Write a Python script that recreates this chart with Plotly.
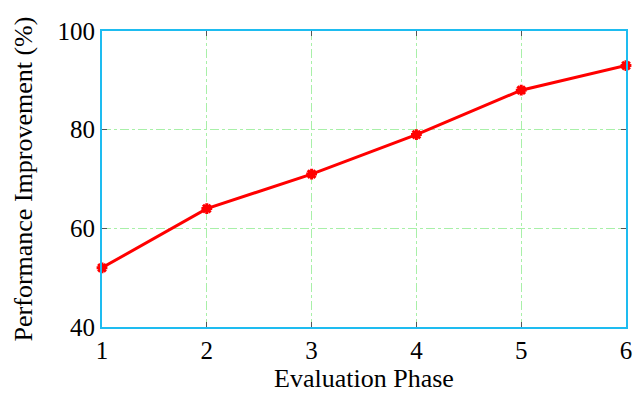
import plotly.graph_objects as go

phases = [1, 2, 3, 4, 5, 6]
improvement = [52, 64, 71, 79, 88, 93]
x_ticks = [1, 2, 3, 4, 5, 6]
y_ticks = [40, 60, 80, 100]

fig = go.Figure()
fig.add_trace(go.Scatter(
    x=phases, y=improvement, mode="lines+markers",
    line=dict(color="#ff0000", width=3),
    marker=dict(symbol="asterisk-open", size=9, color="#ff0000",
                line=dict(color="#ff0000", width=3)),
    cliponaxis=False, showlegend=False,
))

axis_common = dict(
    showline=True, linecolor="#1ebcf0", linewidth=2, mirror="ticks",
    ticks="inside", ticklen=5, tickcolor="#555555", tickwidth=1,
    showgrid=True, gridcolor="#a8f0a8", griddash="dashdot", gridwidth=1,
    zeroline=False, automargin=False,
    tickfont=dict(family="Liberation Serif", size=25, color="black"),
    title_font=dict(family="Liberation Serif", size=26, color="black"),
)

fig.update_xaxes(range=[1, 6], tickvals=x_ticks, title_text="Evaluation Phase",
                 title_standoff=4, **axis_common)
fig.update_yaxes(range=[40, 100], tickvals=y_ticks, title_text="Performance Improvement (%)",
                 title_standoff=17, **axis_common)

fig.update_layout(
    width=634, height=393,
    margin=dict(l=102, r=8, t=31, b=66),
    plot_bgcolor="white", paper_bgcolor="white",
)

fig.write_html("out.html", config={"displayModeBar": False},
               post_script="document.body.style.margin='0';")
